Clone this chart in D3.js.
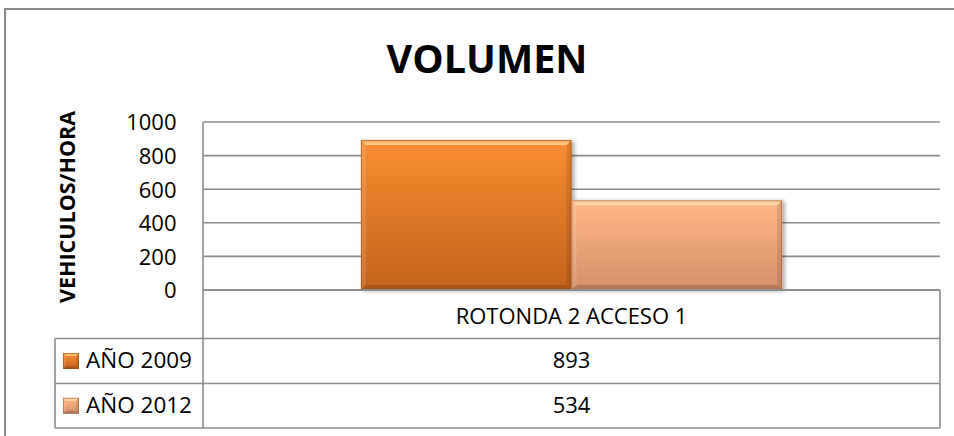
<!DOCTYPE html>
<html>
<head>
<meta charset="utf-8">
<script src="https://cdn.jsdelivr.net/npm/d3@7"></script>
<style>
  html, body { margin: 0; padding: 0; background: #ffffff; }
  svg { display: block; }
  text { font-family: "Open Sans", "Noto Sans", sans-serif; fill: #000; }
</style>
</head>
<body>
<svg id="chart" width="954" height="436"></svg>
<script>
// ---- data ----
const categories = ["ROTONDA 2 ACCESO 1"];
const seriesNames = ["AÑO 2009", "AÑO 2012"];
const seriesValues = [[893], [534]];
const yTicks = [0, 200, 400, 600, 800, 1000];
const chartTitle = "VOLUMEN";
const yAxisTitle = "VEHICULOS/HORA";

// ---- styling ----
const palette = [
  { top: "#f98d32", bottom: "#c5631c", edge: "#8f4a12" },
  { top: "#ffb687", bottom: "#d58f69", edge: "#9a5f43" }
];
const gridColor = "#8c8c8c";

// ---- layout ----
const plot = { left: 203, right: 940, top: 122, bottom: 290 };
const table = { legendLeft: 55, rows: [290, 338.5, 383.5, 428] };

const svg = d3.select("#chart");
const defs = svg.append("defs");

// outer chart frame (continues past the right and bottom edges)
svg.append("rect")
  .attr("x", 5).attr("y", 9).attr("width", 980).attr("height", 460)
  .attr("fill", "#fff").attr("stroke", "#8a8a8a").attr("stroke-width", 2);

// title
svg.append("text")
  .attr("x", 487).attr("y", 73)
  .attr("text-anchor", "middle")
  .attr("font-size", 39.5).attr("font-weight", 700)
  .text(chartTitle);

// scales
const x0 = d3.scaleBand().domain(categories).range([plot.left, plot.right]).padding(0);
const x1 = d3.scaleBand().domain(seriesNames).range([0, x0.bandwidth()])
  .paddingInner(0).paddingOuter(0.75);
const y = d3.scaleLinear().domain([0, 1000]).range([plot.bottom, plot.top]);

// gridlines
svg.append("g").selectAll("line").data(yTicks).join("line")
  .attr("x1", plot.left).attr("x2", plot.right)
  .attr("y1", d => y(d)).attr("y2", d => y(d))
  .attr("stroke", gridColor).attr("stroke-width", 1.6);

// value axis line
svg.append("line")
  .attr("x1", plot.left).attr("x2", plot.left)
  .attr("y1", y(1000)).attr("y2", y(0))
  .attr("stroke", gridColor).attr("stroke-width", 1.6);

// tick labels via d3 axis
const yAxis = d3.axisLeft(y).tickValues(yTicks).tickSize(0).tickPadding(0).tickFormat(d3.format("d"));
const gAxis = svg.append("g").attr("transform", `translate(${176.5},0)`).call(yAxis);
gAxis.select(".domain").remove();
gAxis.selectAll("text")
  .attr("font-family", "'Open Sans', 'Noto Sans', sans-serif")
  .attr("font-size", 22).attr("fill", "#000")
  .attr("dy", "0.36em");

// axis title
svg.append("text")
  .attr("transform", "translate(75,207) rotate(-90)")
  .attr("text-anchor", "middle")
  .attr("font-size", 21.5).attr("font-weight", 700)
  .text(yAxisTitle);

// gradients + shadow
palette.forEach((c, i) => {
  const g = defs.append("linearGradient").attr("id", "grad" + i)
    .attr("x1", 0).attr("y1", 0).attr("x2", 0).attr("y2", 1);
  g.append("stop").attr("offset", "0%").attr("stop-color", c.top);
  g.append("stop").attr("offset", "100%").attr("stop-color", c.bottom);
});
const hl = defs.append("linearGradient").attr("id", "hilite")
  .attr("x1", 0).attr("y1", 0).attr("x2", 0).attr("y2", 1);
hl.append("stop").attr("offset", "0%").attr("stop-color", "#fff8c8").attr("stop-opacity", 0.2);
hl.append("stop").attr("offset", "100%").attr("stop-color", "#fff8c8").attr("stop-opacity", 0.65);
const sh = defs.append("filter").attr("id", "shadow")
  .attr("x", "-10%").attr("y", "-10%").attr("width", "130%").attr("height", "130%");
sh.append("feDropShadow").attr("dx", 2.5).attr("dy", 1).attr("stdDeviation", 2.2)
  .attr("flood-color", "#000").attr("flood-opacity", 0.35);

// bevelled bar / swatch
function bevelBox(g, x, yTop, w, h, i, b) {
  const c = palette[i];
  g.append("rect").attr("x", x).attr("y", yTop).attr("width", w).attr("height", h)
    .attr("fill", `url(#grad${i})`);
  const pts = (arr) => arr.map(p => p.join(",")).join(" ");
  // top facet
  g.append("polygon").attr("points", pts([[x, yTop], [x + w, yTop], [x + w - b, yTop + b], [x + b, yTop + b]]))
    .attr("fill", "url(#hilite)");
  // left facet
  g.append("polygon").attr("points", pts([[x, yTop], [x + b, yTop + b], [x + b, yTop + h - b], [x, yTop + h]]))
    .attr("fill", "#fff").attr("fill-opacity", 0.12);
  // right facet
  g.append("polygon").attr("points", pts([[x + w, yTop], [x + w, yTop + h], [x + w - b, yTop + h - b], [x + w - b, yTop + b]]))
    .attr("fill", "#000").attr("fill-opacity", 0.1);
  // bottom facet
  g.append("polygon").attr("points", pts([[x, yTop + h], [x + b, yTop + h - b], [x + w - b, yTop + h - b], [x + w, yTop + h]]))
    .attr("fill", "#000").attr("fill-opacity", 0.16);
  g.append("rect").attr("x", x + 0.5).attr("y", yTop + 0.5).attr("width", w - 1).attr("height", h - 1)
    .attr("fill", "none").attr("stroke", c.edge).attr("stroke-opacity", 0.55).attr("stroke-width", 1);
}

// bars
categories.forEach((cat, ci) => {
  seriesNames.forEach((s, si) => {
    const v = seriesValues[si][ci];
    const bx = x0(cat) + x1(s);
    const g = svg.append("g").attr("filter", "url(#shadow)");
    bevelBox(g, bx, y(v), x1.bandwidth(), y(0) - y(v), si, 5);
  });
});

// baseline drawn over bars
svg.append("line")
  .attr("x1", plot.left).attr("x2", plot.right)
  .attr("y1", y(0)).attr("y2", y(0))
  .attr("stroke", gridColor).attr("stroke-width", 1.6);

// data table
const tg = svg.append("g");
const rows = table.rows;
const lineAttrs = sel => sel.attr("stroke", gridColor).attr("stroke-width", 1.6);
// horizontal rules
tg.append("line").attr("x1", plot.left).attr("x2", plot.right).attr("y1", rows[0]).attr("y2", rows[0]).call(lineAttrs);
[rows[1], rows[2], rows[3]].forEach(r =>
  tg.append("line").attr("x1", table.legendLeft).attr("x2", plot.right).attr("y1", r).attr("y2", r).call(lineAttrs));
// vertical rules
tg.append("line").attr("x1", plot.left).attr("x2", plot.left).attr("y1", rows[0]).attr("y2", rows[3]).call(lineAttrs);
tg.append("line").attr("x1", plot.right).attr("x2", plot.right).attr("y1", rows[0]).attr("y2", rows[3]).call(lineAttrs);
tg.append("line").attr("x1", table.legendLeft).attr("x2", table.legendLeft).attr("y1", rows[1]).attr("y2", rows[3]).call(lineAttrs);

// category header
categories.forEach(cat => {
  tg.append("text")
    .attr("x", x0(cat) + x0.bandwidth() / 2).attr("y", rows[1] - 14.5)
    .attr("text-anchor", "middle").attr("font-size", 22)
    .text(cat);
});

// series rows
seriesNames.forEach((s, si) => {
  const rTop = rows[si + 1], rBot = rows[si + 2];
  const cy = (rTop + rBot) / 2;
  const sw = svg.append("g");
  bevelBox(sw, 63, cy - 8, 16, 16, si, 3);
  tg.append("text").attr("x", 86).attr("y", rBot - 15.5)
    .attr("font-size", 22.5).text(s);
  categories.forEach((cat, ci) => {
    tg.append("text")
      .attr("x", x0(cat) + x0.bandwidth() / 2).attr("y", rBot - 15.5)
      .attr("text-anchor", "middle").attr("font-size", 22)
      .text(d3.format("d")(seriesValues[si][ci]));
  });
});
</script>
</body>
</html>
